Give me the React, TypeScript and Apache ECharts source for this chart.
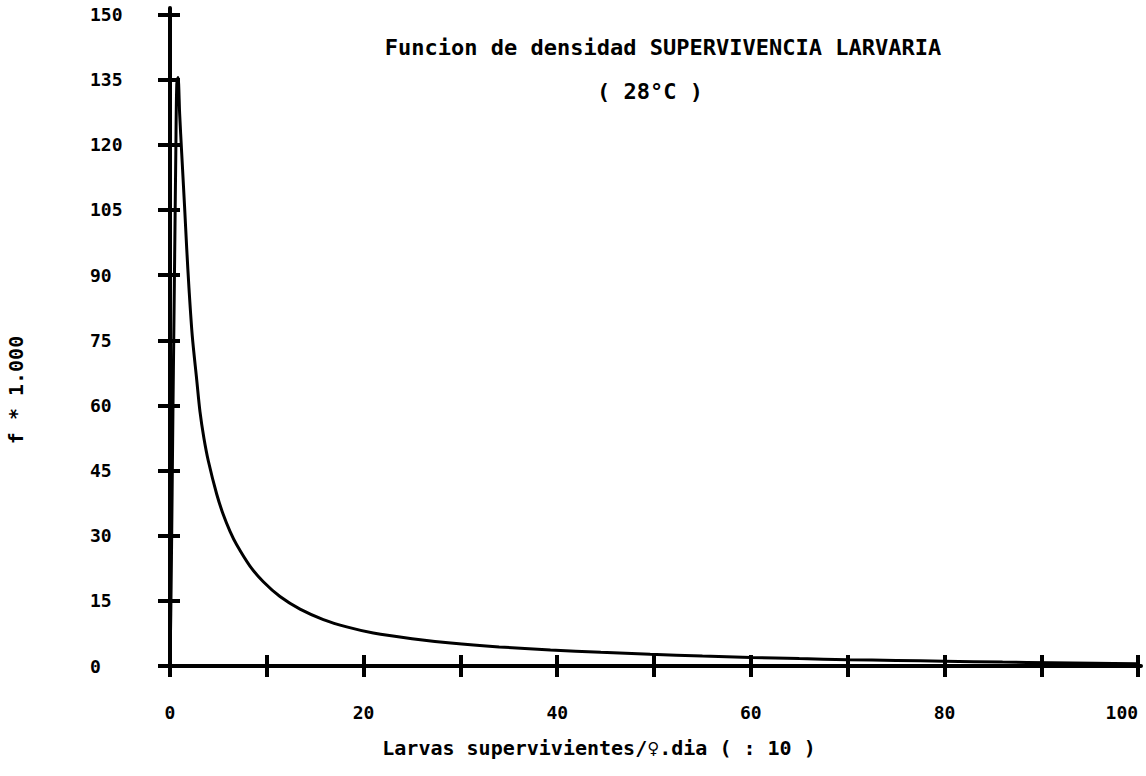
import React, { useEffect, useRef } from "react";
import * as echarts from "echarts";

// Density curve (x: larvas/♀.dia ÷10, y: f * 1000)
const curveX = [0, 0.08, 0.15, 0.22, 0.3, 0.4, 0.5, 0.6, 0.7, 0.83, 1.0, 1.21, 1.5, 1.73, 1.96, 2.3, 2.76, 3.1, 3.5, 3.96, 4.82, 5.51, 6.2, 6.89, 8.26, 9.64, 11.36, 13.43, 15.84, 18.25, 21, 25, 29, 34, 39.3, 44.5, 49.6, 55, 60, 65, 70, 75, 80, 86, 91, 95.5, 100];
const curveY = [0, 12, 25, 40, 58, 78, 98, 118, 134, 135.5, 127, 118, 106, 96, 87, 76, 65.9, 58.5, 52.5, 47.2, 39.6, 34.8, 31.0, 27.9, 23.0, 19.4, 16.0, 13.1, 10.7, 9.0, 7.6, 6.3, 5.3, 4.4, 3.7, 3.15, 2.7, 2.3, 1.97, 1.7, 1.46, 1.27, 1.1, 0.9, 0.77, 0.63, 0.5];

const xTicks = [0, 10, 20, 30, 40, 50, 60, 70, 80, 90, 100];
const xTickLabels = [0, 20, 40, 60, 80, 100];
const yTicks = [0, 15, 30, 45, 60, 75, 90, 105, 120, 135, 150];

const titleText = "Funcion de densidad SUPERVIVENCIA LARVARIA";
const subtitleText = "( 28°C )";
const xName = "Larvas supervivientes/♀.dia ( : 10 )";
const yName = "f * 1.000";

const FONT = "'DejaVu Sans Mono', 'Liberation Mono', monospace";

export default function App() {
  const ref = useRef<HTMLDivElement>(null);
  useEffect(() => {
    if (!ref.current) return;
    const chart = echarts.init(ref.current, undefined, { renderer: "svg" });
    const data = curveX.map((x, i) => [x, curveY[i]]);
    const axisLine = { show: true, onZero: false, lineStyle: { color: "#000", width: 4 } };
    const tickStyle = { color: "#000", width: 4 };
    chart.setOption({
      animation: false,
      backgroundColor: "#fff",
      title: [
        {
          text: titleText,
          left: 658,
          top: 31,
          textAlign: "center",
          textStyle: { fontFamily: FONT, fontSize: 22, fontWeight: "bold", color: "#000" },
        },
        {
          text: subtitleText,
          left: 645,
          top: 75,
          textAlign: "center",
          textStyle: { fontFamily: FONT, fontSize: 22, fontWeight: "bold", color: "#000" },
        },
      ],
      grid: { left: 170, right: 5, top: 8, bottom: 110, containLabel: false, outerBoundsMode: "none" },
      xAxis: [
        {
          type: "value",
          min: 0,
          max: 100.3,
          position: "bottom",
          axisLine,
          splitLine: { show: false },
          axisTick: { show: true, customValues: xTicks, length: 11, lineStyle: tickStyle },
          axisLabel: {
            show: true,
            customValues: xTickLabels,
            margin: 37,
            alignMaxLabel: "right",
            fontFamily: FONT,
            fontSize: 18,
            fontWeight: "bold",
            color: "#000",
          },
        },
        {
          type: "value",
          min: 0,
          max: 100.3,
          position: "bottom",
          axisLine: { show: false, onZero: false },
          splitLine: { show: false },
          axisTick: { show: true, inside: true, customValues: xTicks, length: 11, lineStyle: tickStyle },
          axisLabel: { show: false },
        },
      ],
      yAxis: [
        {
          type: "value",
          min: 0,
          max: 151.5,
          position: "left",
          axisLine,
          splitLine: { show: false },
          axisTick: { show: true, customValues: yTicks, length: 12, lineStyle: tickStyle },
          axisLabel: {
            show: true,
            customValues: yTicks,
            margin: 80,
            align: "left",
            fontFamily: FONT,
            fontSize: 18,
            fontWeight: "bold",
            color: "#000",
          },
        },
        {
          type: "value",
          min: 0,
          max: 151.5,
          position: "left",
          axisLine: { show: false, onZero: false },
          splitLine: { show: false },
          axisTick: { show: true, inside: true, customValues: yTicks, length: 10, lineStyle: tickStyle },
          axisLabel: { show: false },
        },
      ],
      graphic: [
        {
          type: "text",
          x: 599,
          y: 748,
          style: {
            text: xName,
            align: "center",
            verticalAlign: "middle",
            font: `bold 20px ${FONT}`,
            fill: "#000",
          },
        },
        {
          type: "text",
          x: 16,
          y: 390,
          rotation: Math.PI / 2,
          style: {
            text: yName,
            align: "center",
            verticalAlign: "middle",
            font: `bold 20px ${FONT}`,
            fill: "#000",
          },
        },
      ],
      series: [
        {
          type: "line",
          xAxisIndex: 0,
          yAxisIndex: 0,
          data,
          showSymbol: false,
          smooth: 0.3,
          lineStyle: { color: "#000", width: 3 },
        },
      ],
    });
    return () => chart.dispose();
  }, []);
  return (
    <div
      ref={ref}
      style={{ position: "absolute", left: 0, top: 0, width: 1146, height: 776, background: "#fff" }}
    />
  );
}
